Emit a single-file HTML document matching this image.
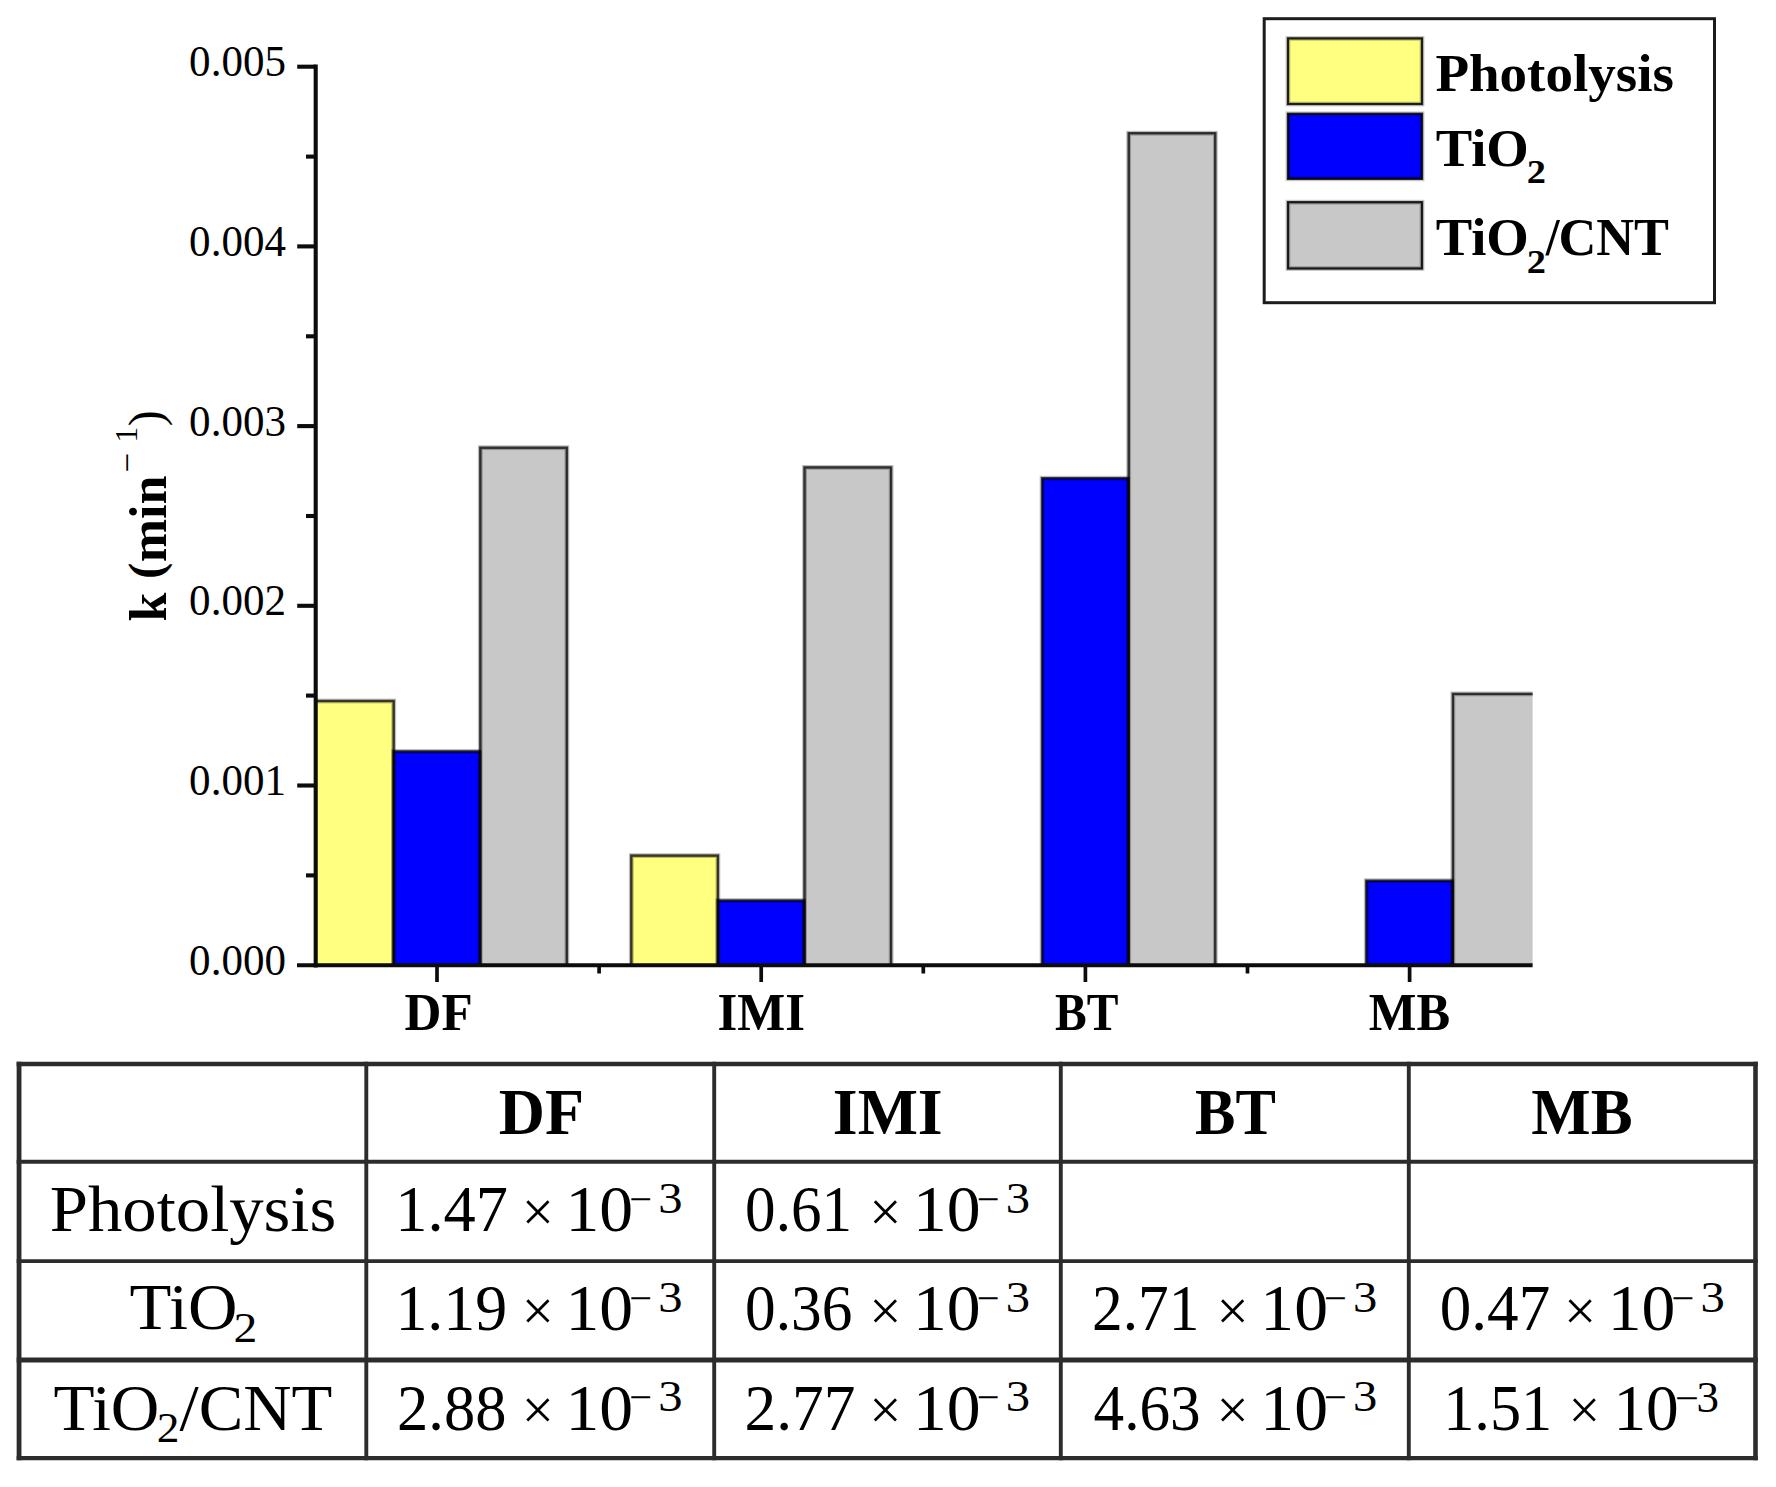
<!DOCTYPE html><html><head><meta charset="utf-8"><title>k (min-1) chart</title>
<style>html,body{margin:0;padding:0;background:#fff}svg{display:block}text{font-family:"Liberation Serif",serif;fill:#000}.b{font-weight:bold}</style></head><body>
<svg width="1776" height="1487" viewBox="0 0 1776 1487">
<rect width="1776" height="1487" fill="#fff"/>
<defs><clipPath id="cp"><rect x="315.7" y="0" width="1216.8999999999999" height="965.2"/></clipPath></defs>
<g clip-path="url(#cp)">
<g stroke="#000" stroke-opacity="0.26" stroke-width="4.8">
<rect x="307.1" y="701.0" width="86.6" height="270.2" fill="#ffff80"/>
<rect x="393.7" y="751.4" width="86.6" height="219.8" fill="#0000ff"/>
<rect x="480.3" y="447.7" width="86.6" height="523.5" fill="#c8c8c8"/>
<rect x="631.3" y="855.6" width="86.6" height="115.6" fill="#ffff80"/>
<rect x="717.9" y="900.5" width="86.6" height="70.7" fill="#0000ff"/>
<rect x="804.5" y="467.4" width="86.6" height="503.8" fill="#c8c8c8"/>
<rect x="1042.1" y="478.2" width="86.6" height="493.0" fill="#0000ff"/>
<rect x="1128.7" y="133.2" width="86.6" height="838.0" fill="#c8c8c8"/>
<rect x="1366.3" y="880.7" width="86.6" height="90.5" fill="#0000ff"/>
<rect x="1452.9" y="693.9" width="86.6" height="277.3" fill="#c8c8c8"/>
</g><g stroke="#000" stroke-opacity="0.72" stroke-width="2.4" fill="none">
<rect x="307.1" y="701.0" width="86.6" height="270.2"/>
<rect x="393.7" y="751.4" width="86.6" height="219.8"/>
<rect x="480.3" y="447.7" width="86.6" height="523.5"/>
<rect x="631.3" y="855.6" width="86.6" height="115.6"/>
<rect x="717.9" y="900.5" width="86.6" height="70.7"/>
<rect x="804.5" y="467.4" width="86.6" height="503.8"/>
<rect x="1042.1" y="478.2" width="86.6" height="493.0"/>
<rect x="1128.7" y="133.2" width="86.6" height="838.0"/>
<rect x="1366.3" y="880.7" width="86.6" height="90.5"/>
<rect x="1452.9" y="693.9" width="86.6" height="277.3"/>
</g></g>
<g stroke="#0c0c0c" stroke-width="4.1" fill="none">
<line x1="315.7" y1="64.5" x2="315.7" y2="967.4000000000001"/>
<line x1="297" y1="965.2" x2="1532.6" y2="965.2"/>
<line x1="297.2" y1="785.5" x2="315.7" y2="785.5"/>
<line x1="297.2" y1="605.8" x2="315.7" y2="605.8"/>
<line x1="297.2" y1="426.1" x2="315.7" y2="426.1"/>
<line x1="297.2" y1="246.4" x2="315.7" y2="246.4"/>
<line x1="297.2" y1="66.7" x2="315.7" y2="66.7"/>
<line x1="306" y1="875.4" x2="315.7" y2="875.4"/>
<line x1="306" y1="695.6" x2="315.7" y2="695.6"/>
<line x1="306" y1="516.0" x2="315.7" y2="516.0"/>
<line x1="306" y1="336.3" x2="315.7" y2="336.3"/>
<line x1="306" y1="156.6" x2="315.7" y2="156.6"/>
<line x1="437.0" y1="965.2" x2="437.0" y2="982" stroke-width="3.7"/>
<line x1="761.2" y1="965.2" x2="761.2" y2="982" stroke-width="3.7"/>
<line x1="1085.4" y1="965.2" x2="1085.4" y2="982" stroke-width="3.7"/>
<line x1="1409.6" y1="965.2" x2="1409.6" y2="982" stroke-width="3.7"/>
<line x1="599.1" y1="965.2" x2="599.1" y2="973.5" stroke-width="3.7"/>
<line x1="923.3000000000001" y1="965.2" x2="923.3000000000001" y2="973.5" stroke-width="3.7"/>
<line x1="1247.5" y1="965.2" x2="1247.5" y2="973.5" stroke-width="3.7"/>
</g>
<text x="189.1" y="974.7" font-size="44" textLength="96.9" lengthAdjust="spacingAndGlyphs">0.000</text>
<text x="189.1" y="795.0" font-size="44" textLength="96.9" lengthAdjust="spacingAndGlyphs">0.001</text>
<text x="189.1" y="615.3" font-size="44" textLength="96.9" lengthAdjust="spacingAndGlyphs">0.002</text>
<text x="189.1" y="435.6" font-size="44" textLength="96.9" lengthAdjust="spacingAndGlyphs">0.003</text>
<text x="189.1" y="255.9" font-size="44" textLength="96.9" lengthAdjust="spacingAndGlyphs">0.004</text>
<text x="189.1" y="76.2" font-size="44" textLength="96.9" lengthAdjust="spacingAndGlyphs">0.005</text>
<text class="b" x="404.5" y="1030.2" font-size="52" textLength="68.2" lengthAdjust="spacingAndGlyphs">DF</text>
<text class="b" x="717.6" y="1030.2" font-size="52" textLength="87.5" lengthAdjust="spacingAndGlyphs">IMI</text>
<text class="b" x="1055.0" y="1030.2" font-size="52" textLength="63.4" lengthAdjust="spacingAndGlyphs">BT</text>
<text class="b" x="1368.8" y="1030.2" font-size="52" textLength="81.3" lengthAdjust="spacingAndGlyphs">MB</text>
<g transform="translate(165.8,621.4) rotate(-90)"><text class="b" x="0" y="0" font-size="52">k</text><text class="b" x="42.6" y="-3.5" font-size="48">(</text><text class="b" x="59.2" y="0" font-size="52">min</text><text x="149" y="-26.5" font-size="35">−</text><text x="179" y="-29" font-size="31">1</text><text x="195.2" y="-3.5" font-size="48">)</text></g>
<rect x="1264.2" y="18.7" width="450.3" height="284" fill="#fff" stroke="#1c1c1c" stroke-width="3"/>
<rect x="1288" y="38.4" width="134" height="65.6" fill="#ffff80" stroke="#000" stroke-opacity="0.22" stroke-width="4.8"/><rect x="1288" y="38.4" width="134" height="65.6" fill="none" stroke="#000" stroke-opacity="0.85" stroke-width="2.3"/>
<rect x="1288" y="113.8" width="134" height="65.0" fill="#0000ff" stroke="#000" stroke-opacity="0.22" stroke-width="4.8"/><rect x="1288" y="113.8" width="134" height="65.0" fill="none" stroke="#000" stroke-opacity="0.85" stroke-width="2.3"/>
<rect x="1288" y="202.2" width="134" height="66.3" fill="#c8c8c8" stroke="#000" stroke-opacity="0.22" stroke-width="4.8"/><rect x="1288" y="202.2" width="134" height="66.3" fill="none" stroke="#000" stroke-opacity="0.85" stroke-width="2.3"/>
<text class="b" x="1435.4" y="90.8" font-size="52" textLength="238.5" lengthAdjust="spacingAndGlyphs">Photolysis</text>
<text class="b" x="1435.7" y="165.7" font-size="52" textLength="93.1" lengthAdjust="spacingAndGlyphs">TiO</text>
<text class="b" x="1526.7" y="182.6" font-size="33" textLength="19.2" lengthAdjust="spacingAndGlyphs">2</text>
<text class="b" x="1435.7" y="254.9" font-size="52" textLength="93.1" lengthAdjust="spacingAndGlyphs">TiO</text>
<text class="b" x="1526.7" y="272.5" font-size="33" textLength="19.2" lengthAdjust="spacingAndGlyphs">2</text>
<text class="b" x="1545.8" y="254.9" font-size="52" textLength="13.8" lengthAdjust="spacingAndGlyphs">/</text>
<text class="b" x="1558.5" y="254.9" font-size="52" textLength="110.5" lengthAdjust="spacingAndGlyphs">CNT</text>
<g stroke="#2c2c2c" fill="none">
<line x1="19.05" y1="1061.8" x2="19.05" y2="1460.3" stroke-width="4.8"/>
<line x1="366.3" y1="1061.8" x2="366.3" y2="1460.3" stroke-width="3.9"/>
<line x1="714.2" y1="1061.8" x2="714.2" y2="1460.3" stroke-width="3.9"/>
<line x1="1060.8" y1="1061.8" x2="1060.8" y2="1460.3" stroke-width="3.9"/>
<line x1="1408.8" y1="1061.8" x2="1408.8" y2="1460.3" stroke-width="3.9"/>
<line x1="1755.5" y1="1061.8" x2="1755.5" y2="1460.3" stroke-width="4.6"/>
<line x1="16.650000000000002" y1="1064" x2="1757.8" y2="1064" stroke-width="4.4"/>
<line x1="16.650000000000002" y1="1161.8" x2="1757.8" y2="1161.8" stroke-width="4.0"/>
<line x1="16.650000000000002" y1="1261.2" x2="1757.8" y2="1261.2" stroke-width="3.8"/>
<line x1="16.650000000000002" y1="1360" x2="1757.8" y2="1360" stroke-width="5.0"/>
<line x1="16.650000000000002" y1="1458.2" x2="1757.8" y2="1458.2" stroke-width="4.2"/>
</g>
<text class="b" x="498.7" y="1134" font-size="65.5" textLength="85.3" lengthAdjust="spacingAndGlyphs">DF</text>
<text class="b" x="832.8" y="1134" font-size="65.5" textLength="109.9" lengthAdjust="spacingAndGlyphs">IMI</text>
<text class="b" x="1195.0" y="1134" font-size="65.5" textLength="80.8" lengthAdjust="spacingAndGlyphs">BT</text>
<text class="b" x="1531.3" y="1134" font-size="65.5" textLength="101.3" lengthAdjust="spacingAndGlyphs">MB</text>
<text x="49.8" y="1231" font-size="65" textLength="286.4" lengthAdjust="spacingAndGlyphs">Photolysis</text>
<text x="129.5" y="1329.3" font-size="65.5" textLength="108.0" lengthAdjust="spacingAndGlyphs">TiO</text>
<text x="233.5" y="1341.6" font-size="41.5" textLength="23.8" lengthAdjust="spacingAndGlyphs">2</text>
<text x="53.5" y="1429.7" font-size="65.5" textLength="105.9" lengthAdjust="spacingAndGlyphs">TiO</text>
<text x="156.8" y="1442" font-size="41.5" textLength="22.7" lengthAdjust="spacingAndGlyphs">2</text>
<text x="179.6" y="1429.7" font-size="65.5" textLength="19.2" lengthAdjust="spacingAndGlyphs">/</text>
<text x="198.7" y="1429.7" font-size="65.5" textLength="133.5" lengthAdjust="spacingAndGlyphs">CNT</text>
<text x="395.3" y="1231.2" font-size="65.5" textLength="112.7" lengthAdjust="spacingAndGlyphs">1.47</text>
<text x="521.8" y="1230.9" font-size="58" textLength="32.2" lengthAdjust="spacingAndGlyphs">×</text>
<text x="565.5" y="1231.2" font-size="65.5" textLength="67.7" lengthAdjust="spacingAndGlyphs">10</text>
<text x="629.3" y="1212.6000000000001" font-size="41" textLength="22.8" lengthAdjust="spacingAndGlyphs">−</text>
<text x="658.3" y="1212.6000000000001" font-size="43.5" textLength="24.3" lengthAdjust="spacingAndGlyphs">3</text>
<text x="745.1" y="1231.2" font-size="65.5" textLength="106.9" lengthAdjust="spacingAndGlyphs">0.61</text>
<text x="869.2" y="1230.9" font-size="58" textLength="32.2" lengthAdjust="spacingAndGlyphs">×</text>
<text x="912.9" y="1231.2" font-size="65.5" textLength="67.7" lengthAdjust="spacingAndGlyphs">10</text>
<text x="976.7" y="1212.6000000000001" font-size="41" textLength="22.8" lengthAdjust="spacingAndGlyphs">−</text>
<text x="1005.7" y="1212.6000000000001" font-size="43.5" textLength="24.3" lengthAdjust="spacingAndGlyphs">3</text>
<text x="395.4" y="1330.4" font-size="65.5" textLength="111.9" lengthAdjust="spacingAndGlyphs">1.19</text>
<text x="521.8" y="1330.1000000000001" font-size="58" textLength="32.2" lengthAdjust="spacingAndGlyphs">×</text>
<text x="565.5" y="1330.4" font-size="65.5" textLength="67.7" lengthAdjust="spacingAndGlyphs">10</text>
<text x="629.3" y="1311.8000000000002" font-size="41" textLength="22.8" lengthAdjust="spacingAndGlyphs">−</text>
<text x="658.3" y="1311.8000000000002" font-size="43.5" textLength="24.3" lengthAdjust="spacingAndGlyphs">3</text>
<text x="745.1" y="1330.4" font-size="65.5" textLength="107.2" lengthAdjust="spacingAndGlyphs">0.36</text>
<text x="869.2" y="1330.1000000000001" font-size="58" textLength="32.2" lengthAdjust="spacingAndGlyphs">×</text>
<text x="912.9" y="1330.4" font-size="65.5" textLength="67.7" lengthAdjust="spacingAndGlyphs">10</text>
<text x="976.7" y="1311.8000000000002" font-size="41" textLength="22.8" lengthAdjust="spacingAndGlyphs">−</text>
<text x="1005.7" y="1311.8000000000002" font-size="43.5" textLength="24.3" lengthAdjust="spacingAndGlyphs">3</text>
<text x="1092.0" y="1330.4" font-size="65.5" textLength="107.4" lengthAdjust="spacingAndGlyphs">2.71</text>
<text x="1216.6" y="1330.1000000000001" font-size="58" textLength="32.2" lengthAdjust="spacingAndGlyphs">×</text>
<text x="1260.3" y="1330.4" font-size="65.5" textLength="67.7" lengthAdjust="spacingAndGlyphs">10</text>
<text x="1324.1" y="1311.8000000000002" font-size="41" textLength="22.8" lengthAdjust="spacingAndGlyphs">−</text>
<text x="1353.1" y="1311.8000000000002" font-size="43.5" textLength="24.3" lengthAdjust="spacingAndGlyphs">3</text>
<text x="1439.8" y="1330.4" font-size="65.5" textLength="110.4" lengthAdjust="spacingAndGlyphs">0.47</text>
<text x="1564.0" y="1330.1000000000001" font-size="58" textLength="32.2" lengthAdjust="spacingAndGlyphs">×</text>
<text x="1607.7" y="1330.4" font-size="65.5" textLength="67.7" lengthAdjust="spacingAndGlyphs">10</text>
<text x="1671.5" y="1311.8000000000002" font-size="41" textLength="22.8" lengthAdjust="spacingAndGlyphs">−</text>
<text x="1700.5" y="1311.8000000000002" font-size="43.5" textLength="24.3" lengthAdjust="spacingAndGlyphs">3</text>
<text x="397.1" y="1429.7" font-size="65.5" textLength="109.4" lengthAdjust="spacingAndGlyphs">2.88</text>
<text x="521.8" y="1429.4" font-size="58" textLength="32.2" lengthAdjust="spacingAndGlyphs">×</text>
<text x="565.5" y="1429.7" font-size="65.5" textLength="67.7" lengthAdjust="spacingAndGlyphs">10</text>
<text x="629.3" y="1411.1000000000001" font-size="41" textLength="22.8" lengthAdjust="spacingAndGlyphs">−</text>
<text x="658.3" y="1411.1000000000001" font-size="43.5" textLength="24.3" lengthAdjust="spacingAndGlyphs">3</text>
<text x="744.5" y="1429.7" font-size="65.5" textLength="110.9" lengthAdjust="spacingAndGlyphs">2.77</text>
<text x="869.2" y="1429.4" font-size="58" textLength="32.2" lengthAdjust="spacingAndGlyphs">×</text>
<text x="912.9" y="1429.7" font-size="65.5" textLength="67.7" lengthAdjust="spacingAndGlyphs">10</text>
<text x="976.7" y="1411.1000000000001" font-size="41" textLength="22.8" lengthAdjust="spacingAndGlyphs">−</text>
<text x="1005.7" y="1411.1000000000001" font-size="43.5" textLength="24.3" lengthAdjust="spacingAndGlyphs">3</text>
<text x="1093.6" y="1429.7" font-size="65.5" textLength="107.1" lengthAdjust="spacingAndGlyphs">4.63</text>
<text x="1216.6" y="1429.4" font-size="58" textLength="32.2" lengthAdjust="spacingAndGlyphs">×</text>
<text x="1260.3" y="1429.7" font-size="65.5" textLength="67.7" lengthAdjust="spacingAndGlyphs">10</text>
<text x="1324.1" y="1411.1000000000001" font-size="41" textLength="22.8" lengthAdjust="spacingAndGlyphs">−</text>
<text x="1353.1" y="1411.1000000000001" font-size="43.5" textLength="24.3" lengthAdjust="spacingAndGlyphs">3</text>
<text x="1443.2" y="1429.7" font-size="65.5" textLength="109.1" lengthAdjust="spacingAndGlyphs">1.51</text>
<text x="1568.6" y="1429.4" font-size="58" textLength="31.7" lengthAdjust="spacingAndGlyphs">×</text>
<text x="1613.4" y="1429.7" font-size="65.5" textLength="65.4" lengthAdjust="spacingAndGlyphs">10</text>
<text x="1674.9" y="1411.5" font-size="41" textLength="23.9" lengthAdjust="spacingAndGlyphs">−</text>
<text x="1696.4" y="1411.5" font-size="43.5" textLength="22.5" lengthAdjust="spacingAndGlyphs">3</text>
</svg></body></html>
